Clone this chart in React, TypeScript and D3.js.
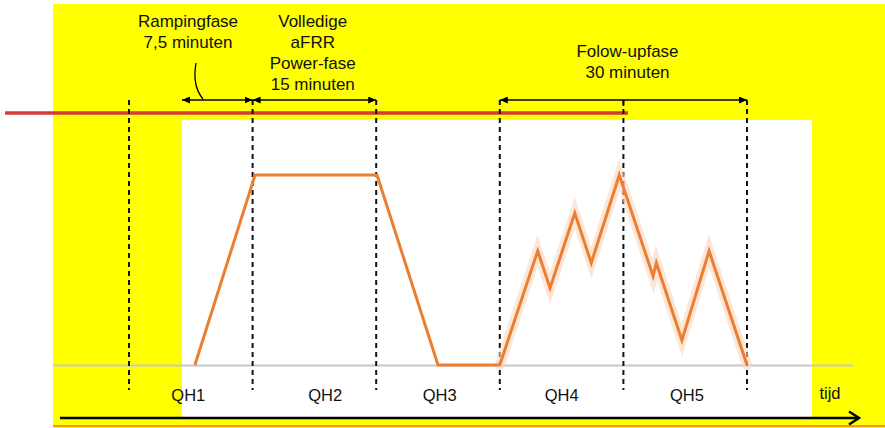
import { useMemo } from 'react';
import { scaleLinear, line } from 'd3';

// quarter-hour boundaries, in minutes
const boundaries = [0, 15, 30, 45, 60, 75];

const qhLabels = ['QH1', 'QH2', 'QH3', 'QH4', 'QH5'];
const qhLabelAt = [7.2, 23.8, 37.7, 52.5, 67.7];

// activated aFRR power (percent of full power)
const powerTime = [8, 15.3, 30.1, 37.5, 45];
const powerValue = [0, 100, 100, 0, 0];

const followTime = [45, 49.6, 51.1, 54.1, 56.1, 59.5, 63.6, 64.0, 67.1, 70.4, 75];
const followValue = [0, 60, 40.5, 80, 53.7, 100, 46.8, 53.7, 13, 60, 0];

const phaseLabels = [
  ['Rampingfase', '7,5 minuten'],
  ['Volledige', 'aFRR', 'Power-fase', '15 minuten'],
  ['Folow-upfase', '30 minuten'],
];
const phaseFrom = [6.43, 15, 45];
const phaseTo = [15, 30, 75];
const phaseLabelAt = [7.16, 22.3, 60.5];
const phaseLabelTop = [27, 27, 57];

const font = '"Liberation Sans", Arial, sans-serif';

export default function App() {
  const x = useMemo(() => scaleLinear().domain([0, 75]).range([129, 747]), []);
  const y = useMemo(() => scaleLinear().domain([0, 100]).range([365, 175]), []);

  const path = line<[number, number]>()
    .x((d) => x(d[0]))
    .y((d) => y(d[1]));

  const power = path(powerTime.map((t, i) => [t, powerValue[i]]));
  const follow = path(followTime.map((t, i) => [t, followValue[i]]));

  const arrowY = 100;

  return (
    <svg
      width={885}
      height={428}
      style={{ position: 'absolute', left: 0, top: 0, background: '#fff' }}
      fontFamily={font}
    >
      <defs>
        <marker
          id="head"
          viewBox="0 0 8 7"
          refX={8}
          refY={3.5}
          markerWidth={8}
          markerHeight={7}
          markerUnits="userSpaceOnUse"
          orient="auto-start-reverse"
        >
          <path d="M0,0 L8,3.5 L0,7 Z" fill="#000" />
        </marker>
      </defs>

      {/* backgrounds */}
      <rect x={53} y={4} width={832} height={424} fill="#ffff00" />
      <rect x={182} y={120} width={630} height={298} fill="#fff" />
      <line x1={5} x2={628} y1={113} y2={113} stroke="#d63a3a" strokeWidth={3.5} />
      <line x1={53} x2={885} y1={426} y2={426} stroke="#e0303a" strokeWidth={1} />

      {/* baseline */}
      <line x1={53} x2={853} y1={365.5} y2={365.5} stroke="#c8c8c8" strokeWidth={2} />

      {/* quarter hour dividers */}
      {boundaries.map((b) => (
        <line
          key={b}
          x1={x(b)}
          x2={x(b)}
          y1={arrowY}
          y2={390}
          stroke="#111"
          strokeWidth={2}
          strokeDasharray="5,4"
        />
      ))}

      {/* phase arrows and labels */}
      {phaseLabels.map((lines, i) => (
        <g key={i}>
          <line
            x1={x(phaseFrom[i])}
            x2={x(phaseTo[i])}
            y1={arrowY}
            y2={arrowY}
            stroke="#000"
            strokeWidth={1.6}
            markerStart="url(#head)"
            markerEnd="url(#head)"
          />
          {lines.map((s, j) => (
            <text
              key={j}
              x={x(phaseLabelAt[i])}
              y={phaseLabelTop[i] + j * 21}
              textAnchor="middle"
              fontSize={17}
              fill="#111"
            >
              {s}
            </text>
          ))}
        </g>
      ))}
      <line x1={x(60)} x2={x(60)} y1={arrowY} y2={106} stroke="#000" strokeWidth={1.6} />
      <path d="M196,63 Q192,86 203,99" fill="none" stroke="#000" strokeWidth={1.3} />

      {/* power curves */}
      <path
        d={follow ?? ''}
        fill="none"
        stroke="#f8d5bd"
        strokeOpacity={0.6}
        strokeWidth={10}
        strokeLinecap="round"
        strokeLinejoin="miter"
      />
      <path d={power ?? ''} fill="none" stroke="#ed7d31" strokeWidth={3} strokeLinejoin="miter" />
      <path d={follow ?? ''} fill="none" stroke="#ed7d31" strokeWidth={3} strokeLinejoin="miter" />

      {/* quarter hour labels */}
      {qhLabels.map((s, i) => (
        <text key={s} x={x(qhLabelAt[i])} y={401} textAnchor="middle" fontSize={16.5} fill="#111">
          {s}
        </text>
      ))}
      <text x={830} y={399} textAnchor="middle" fontSize={16.5} fill="#111">
        tijd
      </text>

      {/* time axis */}
      <line x1={60} x2={859} y1={418} y2={418} stroke="#000" strokeWidth={2.5} />
      <path d="M849,411.5 L859,418 L849,424.5" fill="none" stroke="#000" strokeWidth={2.5} />
    </svg>
  );
}
